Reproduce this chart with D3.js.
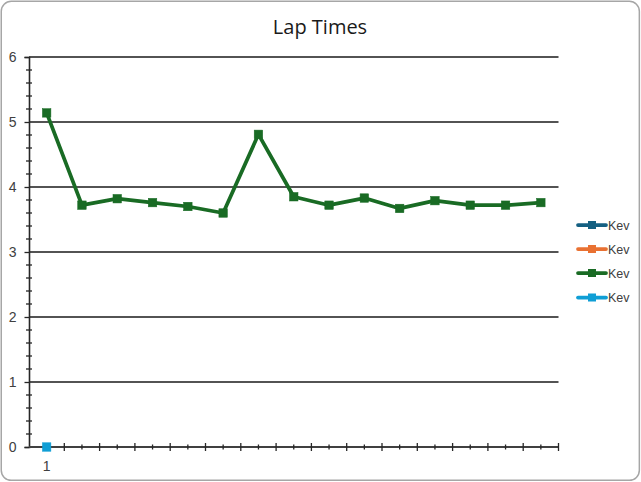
<!DOCTYPE html>
<html>
<head>
<meta charset="utf-8">
<script src="https://cdn.jsdelivr.net/npm/d3@7/dist/d3.min.js"></script>
<style>
  html, body { margin: 0; padding: 0; background: #fff; }
  svg { display: block; }
</style>
</head>
<body>
<svg id="chart" width="641" height="482"></svg>
<script>
// ---- data ----
const categories = ["1","2","3","4","5","6","7","8","9","10","11","12","13","14","15"];
const xTickLabels = ["1","","","","","","","","","","","","","",""];
const seriesNames = ["Kev","Kev","Kev","Kev"];
const seriesColors = ["#156082","#E97132","#196B24","#0F9ED5"];
const series1 = [];
const series2 = [];
const series3 = [5.14,3.72,3.82,3.76,3.70,3.60,4.81,3.85,3.72,3.83,3.67,3.79,3.72,3.72,3.76];
const series4 = [0];
const yTicks = [0,1,2,3,4,5,6];
const titleText = "Lap Times";

const allSeries = [series1, series2, series3, series4];

const svg = d3.select("#chart");
const W = 641, H = 482;
const labelFont = "'Liberation Sans', Arial, sans-serif";

// chart border
svg.append("rect")
  .attr("x", 1.25).attr("y", 1.25)
  .attr("width", W - 2.9).attr("height", H - 2.9)
  .attr("rx", 10).attr("ry", 10)
  .attr("fill", "#fff").attr("stroke", "#a6a6a6").attr("stroke-width", 1.5);

// title
svg.append("text")
  .attr("x", 320).attr("y", 34)
  .attr("text-anchor", "middle")
  .style("font-family", "'Open Sans', 'Noto Sans', sans-serif")
  .style("font-size", "20px")
  .attr("fill", "#1a1a1a")
  .text(titleText);

const plot = { left: 29, right: 558.5, top: 57, bottom: 447 };

const x = d3.scaleBand().domain(categories).range([plot.left, plot.right]).padding(0);
const y = d3.scaleLinear().domain([0, 6]).range([plot.bottom, plot.top]);

// gridlines
svg.append("g").selectAll("line").data(yTicks.filter(d => d > 0)).join("line")
  .attr("x1", plot.left).attr("x2", plot.right)
  .attr("y1", d => y(d)).attr("y2", d => y(d))
  .attr("stroke", "#1a1a1a").attr("stroke-width", 1.3);

// y minor ticks
const yMinor = d3.range(0, 6.001, 0.2).filter(v => Math.abs(v - Math.round(v)) > 1e-6);
svg.append("g").selectAll("line").data(yMinor).join("line")
  .attr("x1", plot.left - 3).attr("x2", plot.left + 3)
  .attr("y1", d => y(d)).attr("y2", d => y(d))
  .attr("stroke", "#262626").attr("stroke-width", 1.3);

// y axis
const yAxis = d3.axisLeft(y).tickValues(yTicks).tickSize(4.5).tickPadding(8).tickFormat(d3.format("d"));
const gy = svg.append("g").attr("transform", `translate(${plot.left},0)`).call(yAxis);
gy.attr("font-size", null).attr("font-family", null);
gy.select(".domain").attr("stroke", "#262626").attr("stroke-width", 1.6);
gy.selectAll(".tick line").attr("stroke", "#262626").attr("stroke-width", 1.3);
gy.selectAll(".tick text")
  .style("font-size", "14px").style("font-family", labelFont)
  .attr("fill", "#404040");

// x axis
const gx = svg.append("g").attr("transform", `translate(0,${plot.bottom})`);
gx.append("line").attr("x1", plot.left).attr("x2", plot.right)
  .attr("y1", 0).attr("y2", 0).attr("stroke", "#404040").attr("stroke-width", 2);
const boundaries = categories.map(c => x(c)).concat([x(categories[categories.length - 1]) + x.bandwidth()]);
gx.selectAll("line.maj").data(boundaries.slice(1)).join("line").attr("class", "maj")
  .attr("x1", d => d).attr("x2", d => d).attr("y1", -4).attr("y2", 4)
  .attr("stroke", "#262626").attr("stroke-width", 1.3);
gx.selectAll("line.min").data(categories).join("line").attr("class", "min")
  .attr("x1", d => x(d) + x.bandwidth() / 2).attr("x2", d => x(d) + x.bandwidth() / 2)
  .attr("y1", -2.5).attr("y2", 2.5)
  .attr("stroke", "#262626").attr("stroke-width", 1.3);
gx.selectAll("text").data(categories).join("text")
  .attr("x", d => x(d) + x.bandwidth() / 2).attr("y", 24)
  .attr("text-anchor", "middle")
  .style("font-size", "14px").style("font-family", labelFont)
  .attr("fill", "#404040")
  .text((d, i) => xTickLabels[i]);

// series
const cx = i => x(categories[i]) + x.bandwidth() / 2;
const line = d3.line().x((d, i) => cx(i)).y(d => y(d));
allSeries.forEach((s, k) => {
  if (!s.length) return;
  const g = svg.append("g");
  if (s.length > 1) {
    g.append("path").datum(s).attr("d", line)
      .attr("fill", "none").attr("stroke", seriesColors[k])
      .attr("stroke-width", 3.75).attr("stroke-linejoin", "round");
  }
  g.selectAll("rect").data(s).join("rect")
    .attr("x", (d, i) => cx(i) - 4.25).attr("y", d => y(d) - 4.25)
    .attr("width", 8.5).attr("height", 8.5)
    .attr("fill", seriesColors[k]).attr("stroke", seriesColors[k]).attr("stroke-width", 0.5);
});

// legend
const legY = [225, 249, 273, 297.5];
const leg = svg.append("g");
seriesNames.forEach((name, k) => {
  const ly = legY[k];
  leg.append("line").attr("x1", 578).attr("x2", 606).attr("y1", ly).attr("y2", ly)
    .attr("stroke", seriesColors[k]).attr("stroke-width", 3.75).attr("stroke-linecap", "round");
  leg.append("rect").attr("x", 592 - 4).attr("y", ly - 4).attr("width", 8).attr("height", 8)
    .attr("fill", seriesColors[k]);
  leg.append("text").attr("x", 608).attr("y", ly + 4.5)
    .style("font-size", "12.5px").style("font-family", labelFont)
    .attr("fill", "#404040")
    .text(name);
});
</script>
</body>
</html>
